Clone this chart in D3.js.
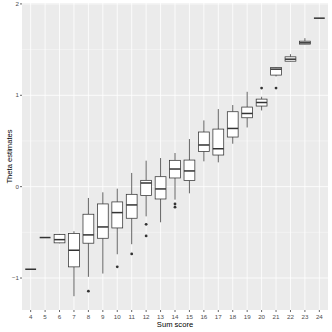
<!DOCTYPE html>
<html>
<head>
<meta charset="utf-8">
<script src="https://cdn.jsdelivr.net/npm/d3@7"></script>
<style>
  html, body { margin: 0; padding: 0; background: #fff; }
  svg { display: block; font-family: "Liberation Sans", Arial, sans-serif; }
</style>
</head>
<body>
<div id="chart"></div>
<script>
// sum score categories
const scores = [4, 5, 6, 7, 8, 9, 10, 11, 12, 13, 14, 15, 16, 17, 18, 19, 20, 21, 22, 23, 24];

// box stats per score
const whiskerLow  = [-0.904, -0.557, -0.62, -1.199, -0.987, -0.951, -0.740, -0.630, -0.325, -0.390, -0.142, -0.073, 0.277, 0.266, 0.470, 0.648, 0.834, 1.206, 1.370, 1.558, 1.844];
const q1          = [-0.904, -0.557, -0.615, -0.878, -0.619, -0.565, -0.452, -0.346, -0.098, -0.135, 0.095, 0.066, 0.386, 0.346, 0.543, 0.754, 0.882, 1.221, 1.373, 1.560, 1.844];
const medians     = [-0.904, -0.557, -0.580, -0.696, -0.528, -0.441, -0.284, -0.200, 0.040, -0.025, 0.193, 0.172, 0.456, 0.415, 0.637, 0.801, 0.921, 1.286, 1.395, 1.574, 1.844];
const q3          = [-0.904, -0.557, -0.525, -0.514, -0.302, -0.189, -0.167, -0.084, 0.069, 0.109, 0.288, 0.291, 0.598, 0.630, 0.820, 0.871, 0.958, 1.304, 1.421, 1.592, 1.844];
const whiskerHigh = [-0.904, -0.557, -0.517, -0.488, -0.124, -0.062, -0.022, 0.150, 0.284, 0.313, 0.368, 0.521, 0.725, 0.849, 0.893, 1.038, 0.984, 1.310, 1.450, 1.625, 1.844];

// outliers: [score, theta]
const outliers = [
  [8, -1.144], [10, -0.878], [11, -0.736],
  [12, -0.412], [12, -0.539],
  [14, -0.19], [14, -0.225],
  [20, 1.079], [21, 1.079]
];

const yTicks = [-1, 0, 1, 2];
const yMinor = [-0.5, 0.5, 1.5];

const W = 332, H = 332;
const panel = { left: 22, right: 328, top: 3, bottom: 310 };

const svg = d3.select("#chart").append("svg")
  .attr("width", W).attr("height", H);

const x = d3.scalePoint()
  .domain(scores)
  .range([panel.left, panel.right])
  .padding(0.6);

const y = d3.scaleLinear()
  .domain([-1.35, 2.01])
  .range([panel.bottom, panel.top]);

// panel background
svg.append("rect")
  .attr("x", panel.left).attr("y", panel.top)
  .attr("width", panel.right - panel.left)
  .attr("height", panel.bottom - panel.top)
  .attr("fill", "#EBEBEB");

// minor grid
svg.append("g").selectAll("line").data(yMinor).join("line")
  .attr("x1", panel.left).attr("x2", panel.right)
  .attr("y1", d => y(d)).attr("y2", d => y(d))
  .attr("stroke", "#fff").attr("stroke-width", 0.4);

// major grid
svg.append("g").selectAll("line").data(yTicks).join("line")
  .attr("x1", panel.left).attr("x2", panel.right)
  .attr("y1", d => y(d)).attr("y2", d => y(d))
  .attr("stroke", "#fff").attr("stroke-width", 0.8);

svg.append("g").selectAll("line").data(scores).join("line")
  .attr("x1", d => x(d)).attr("x2", d => x(d))
  .attr("y1", panel.top).attr("y2", panel.bottom)
  .attr("stroke", "#fff").attr("stroke-width", 0.8);

// boxes
const boxW = x.step() * 0.75;
const rows = scores.map((s, i) => ({
  s, lo: whiskerLow[i], q1: q1[i], med: medians[i], q3: q3[i], hi: whiskerHigh[i]
}));

const gBox = svg.append("g");
const box = gBox.selectAll("g").data(rows).join("g");

box.append("line")
  .attr("x1", d => x(d.s)).attr("x2", d => x(d.s))
  .attr("y1", d => y(d.q3)).attr("y2", d => y(d.hi))
  .attr("stroke", "#333").attr("stroke-width", 0.75);
box.append("line")
  .attr("x1", d => x(d.s)).attr("x2", d => x(d.s))
  .attr("y1", d => y(d.q1)).attr("y2", d => y(d.lo))
  .attr("stroke", "#333").attr("stroke-width", 0.75);

box.append("rect")
  .attr("x", d => x(d.s) - boxW / 2)
  .attr("width", boxW)
  .attr("y", d => y(d.q3))
  .attr("height", d => Math.max(0, y(d.q1) - y(d.q3)))
  .attr("fill", "#fff")
  .attr("stroke", "#333").attr("stroke-width", 0.75);

box.append("line")
  .attr("x1", d => x(d.s) - boxW / 2).attr("x2", d => x(d.s) + boxW / 2)
  .attr("y1", d => y(d.med)).attr("y2", d => y(d.med))
  .attr("stroke", "#333").attr("stroke-width", 1.5);

// outlier points
svg.append("g").selectAll("circle").data(outliers).join("circle")
  .attr("cx", d => x(d[0])).attr("cy", d => y(d[1]))
  .attr("r", 1.4).attr("fill", "#333");

// axes ticks + labels
const gx = svg.append("g");
gx.selectAll("line").data(scores).join("line")
  .attr("x1", d => x(d)).attr("x2", d => x(d))
  .attr("y1", panel.bottom).attr("y2", panel.bottom + 2)
  .attr("stroke", "#333").attr("stroke-width", 0.75);
gx.selectAll("text").data(scores).join("text")
  .attr("x", d => x(d)).attr("y", panel.bottom + 9)
  .attr("text-anchor", "middle")
  .attr("font-size", 6.2).attr("fill", "#4D4D4D")
  .text(d => d);

const gy = svg.append("g");
gy.selectAll("line").data(yTicks).join("line")
  .attr("x1", panel.left - 2).attr("x2", panel.left)
  .attr("y1", d => y(d)).attr("y2", d => y(d))
  .attr("stroke", "#333").attr("stroke-width", 0.75);
gy.selectAll("text").data(yTicks).join("text")
  .attr("x", panel.left - 3).attr("y", d => y(d))
  .attr("dy", "0.35em")
  .attr("text-anchor", "end")
  .attr("font-size", 6.2).attr("fill", "#4D4D4D")
  .text(d => d < 0 ? "\u2212" + Math.abs(d) : d);

// axis titles
svg.append("text")
  .attr("x", (panel.left + panel.right) / 2).attr("y", 327)
  .attr("text-anchor", "middle")
  .attr("font-size", 7.6).attr("fill", "#000")
  .text("Sum score");

svg.append("text")
  .attr("transform", `translate(9,${(panel.top + panel.bottom) / 2}) rotate(-90)`)
  .attr("dy", "0.35em")
  .attr("text-anchor", "middle")
  .attr("font-size", 7.6).attr("fill", "#000")
  .text("Theta estimates");
</script>
</body>
</html>
